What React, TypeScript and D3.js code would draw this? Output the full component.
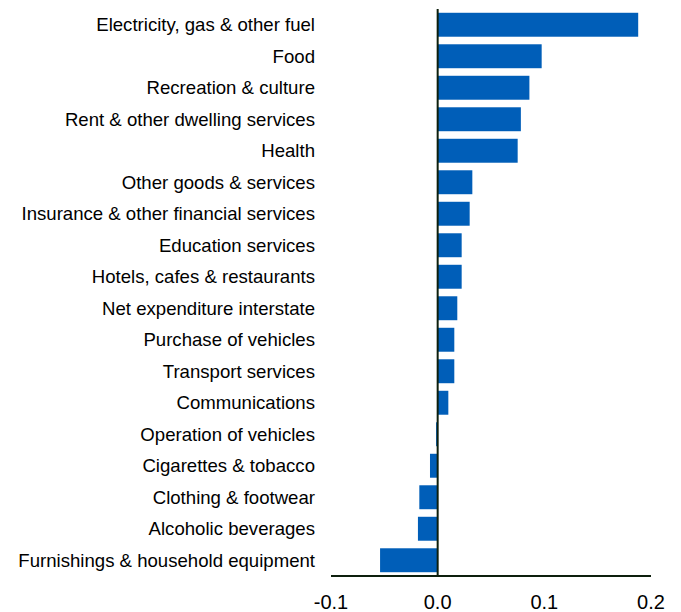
import React from "react";
import * as d3 from "d3";

const categories = [
  "Electricity, gas & other fuel",
  "Food",
  "Recreation & culture",
  "Rent & other dwelling services",
  "Health",
  "Other goods & services",
  "Insurance & other financial services",
  "Education services",
  "Hotels, cafes & restaurants",
  "Net expenditure interstate",
  "Purchase of vehicles",
  "Transport services",
  "Communications",
  "Operation of vehicles",
  "Cigarettes & tobacco",
  "Clothing & footwear",
  "Alcoholic beverages",
  "Furnishings & household equipment",
];
const values = [
  0.188, 0.0975, 0.086, 0.078, 0.075, 0.0325, 0.03, 0.0225, 0.0225, 0.0184,
  0.0156, 0.0156, 0.01, -0.0015, -0.0072, -0.0172, -0.0185, -0.054,
];
const xTicks = [-0.1, 0.0, 0.1, 0.2];

export default function App() {
  const W = 681;
  const H = 612;
  const x = d3.scaleLinear().domain([-0.1, 0.2]).range([331, 651]);
  const y = d3
    .scaleBand<string>()
    .domain(categories)
    .range([9, 576])
    .paddingInner(0.24)
    .paddingOuter(0.12);
  const font = "Liberation Sans, Arial, sans-serif";
  return (
    <svg
      width={W}
      height={H}
      style={{ position: "absolute", left: 0, top: 0, background: "#fff" }}
    >
      {categories.map((c, i) => {
        const v = values[i];
        const x0 = x(Math.min(0, v));
        const x1 = x(Math.max(0, v));
        return (
          <g key={c}>
            <rect
              x={x0}
              y={y(c)!}
              width={Math.max(0.5, x1 - x0)}
              height={y.bandwidth()}
              fill="#005EB8"
            />
            <text
              x={315}
              y={y(c)! + y.bandwidth() / 2}
              textAnchor="end"
              dominantBaseline="central"
              fontFamily={font}
              fontSize={18.6}
              fill="#000"
            >
              {c}
            </text>
          </g>
        );
      })}
      <line x1={x(0)} x2={x(0)} y1={9} y2={576} stroke="#0d1f0d" strokeWidth={2} />
      <line x1={331} x2={651} y1={576} y2={576} stroke="#0d1f0d" strokeWidth={2} />
      {xTicks.map((t) => (
        <text
          key={t}
          x={x(t)}
          y={609}
          textAnchor="middle"
          fontFamily={font}
          fontSize={20}
          fill="#000"
        >
          {d3.format(".1f")(t).replace("\u2212", "-")}
        </text>
      ))}
    </svg>
  );
}
